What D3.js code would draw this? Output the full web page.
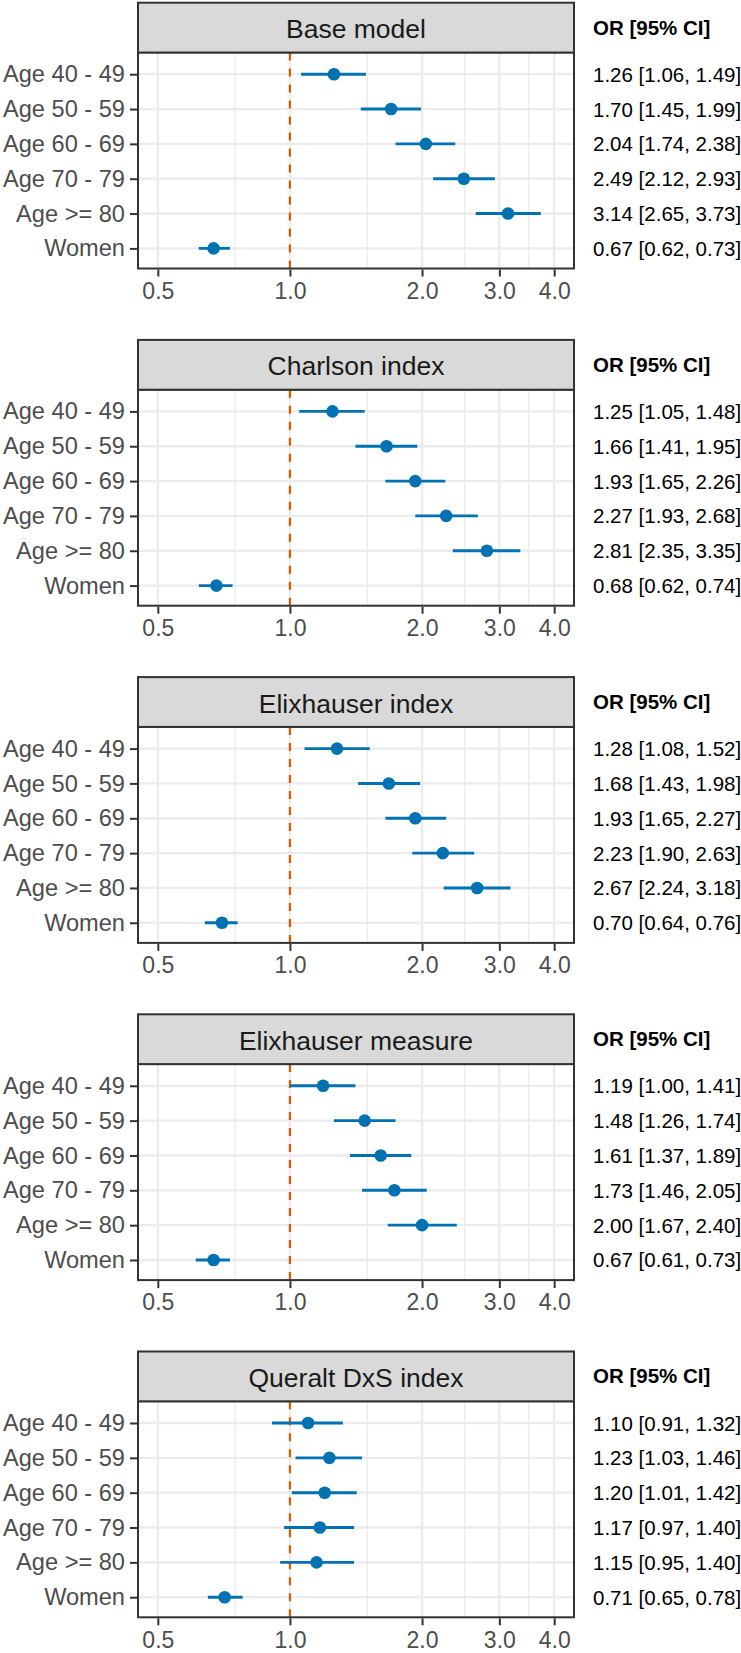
<!DOCTYPE html>
<html>
<head>
<meta charset="utf-8">
<script src="https://cdn.jsdelivr.net/npm/d3@7"></script>
<style>
  html, body { margin: 0; padding: 0; background: #ffffff; }
  svg { display: block; }
  text { font-family: "Liberation Sans", Arial, sans-serif; }
</style>
</head>
<body>
<svg id="chart" width="741" height="1653"></svg>
<script>
// ---------- data ----------
const categories = ["Age 40 - 49", "Age 50 - 59", "Age 60 - 69", "Age 70 - 79", "Age >= 80", "Women"];
const models = ["Base model", "Charlson index", "Elixhauser index", "Elixhauser measure", "Queralt DxS index"];
const orValues = [
  [1.26, 1.70, 2.04, 2.49, 3.14, 0.67],
  [1.25, 1.66, 1.93, 2.27, 2.81, 0.68],
  [1.28, 1.68, 1.93, 2.23, 2.67, 0.70],
  [1.19, 1.48, 1.61, 1.73, 2.00, 0.67],
  [1.10, 1.23, 1.20, 1.17, 1.15, 0.71]
];
const lowerCI = [
  [1.06, 1.45, 1.74, 2.12, 2.65, 0.62],
  [1.05, 1.41, 1.65, 1.93, 2.35, 0.62],
  [1.08, 1.43, 1.65, 1.90, 2.24, 0.64],
  [1.00, 1.26, 1.37, 1.46, 1.67, 0.61],
  [0.91, 1.03, 1.01, 0.97, 0.95, 0.65]
];
const upperCI = [
  [1.49, 1.99, 2.38, 2.93, 3.73, 0.73],
  [1.48, 1.95, 2.26, 2.68, 3.35, 0.74],
  [1.52, 1.98, 2.27, 2.63, 3.18, 0.76],
  [1.41, 1.74, 1.89, 2.05, 2.40, 0.73],
  [1.32, 1.46, 1.42, 1.40, 1.40, 0.78]
];
const xTicks = [0.5, 1, 2, 3, 4];
const xMinorTicks = [0.75, 1.5, 2.5, 3.5];
const xTickLabels = ["0.5", "1.0", "2.0", "3.0", "4.0"];
const refValue = 1;
const headerLabel = "OR [95% CI]";

// ---------- layout ----------
const svg = d3.select("#chart");
const panelLeft = 138, panelRight = 574;
const firstTop = 2.7, period = 337.2, stripH = 49.8, bodyH = 216;
const textX = 593;

const lo = Math.log2(0.5), hi = Math.log2(4), ex = (hi - lo) * 0.05;
const x = d3.scaleLog().base(2)
  .domain([Math.pow(2, lo - ex), Math.pow(2, hi + ex)])
  .range([panelLeft, panelRight]);

const fmt = d3.format(".2f");

models.forEach((model, mi) => {
  const top = firstTop + mi * period;
  const bodyTop = top + stripH;
  const bodyBottom = bodyTop + bodyH;

  const y = d3.scalePoint().domain(categories)
    .range([bodyTop + 0.8, bodyBottom + 0.8]).padding(0.6);

  const g = svg.append("g");

  const clipId = "clip" + mi;
  svg.append("clipPath").attr("id", clipId)
    .append("rect").attr("x", panelLeft).attr("y", bodyTop)
    .attr("width", panelRight - panelLeft).attr("height", bodyH);

  const body = g.append("g").attr("clip-path", `url(#${clipId})`);
  body.append("rect").attr("x", panelLeft).attr("y", bodyTop)
    .attr("width", panelRight - panelLeft).attr("height", bodyH).attr("fill", "#ffffff");

  body.selectAll(".minor").data(xMinorTicks).enter().append("line")
    .attr("x1", d => x(d)).attr("x2", d => x(d))
    .attr("y1", bodyTop).attr("y2", bodyBottom)
    .attr("stroke", "#EBEBEB").attr("stroke-width", 1.3);
  body.selectAll(".major").data(xTicks).enter().append("line")
    .attr("x1", d => x(d)).attr("x2", d => x(d))
    .attr("y1", bodyTop).attr("y2", bodyBottom)
    .attr("stroke", "#EBEBEB").attr("stroke-width", 2.3);
  body.selectAll(".hgrid").data(categories).enter().append("line")
    .attr("x1", panelLeft).attr("x2", panelRight)
    .attr("y1", d => y(d)).attr("y2", d => y(d))
    .attr("stroke", "#EBEBEB").attr("stroke-width", 2.3);

  body.append("line")
    .attr("x1", x(refValue)).attr("x2", x(refValue))
    .attr("y1", bodyTop).attr("y2", bodyBottom)
    .attr("stroke", "#D55E00").attr("stroke-width", 2.3)
    .attr("stroke-dasharray", "8,8");

  const rows = categories.map((c, i) => ({
    cat: c, or: orValues[mi][i], lo: lowerCI[mi][i], hi: upperCI[mi][i]
  }));

  body.selectAll(".err").data(rows).enter().append("line")
    .attr("x1", d => x(d.lo)).attr("x2", d => x(d.hi))
    .attr("y1", d => y(d.cat)).attr("y2", d => y(d.cat))
    .attr("stroke", "#0072B2").attr("stroke-width", 2.9);
  body.selectAll(".pt").data(rows).enter().append("circle")
    .attr("cx", d => x(d.or)).attr("cy", d => y(d.cat)).attr("r", 6.3)
    .attr("fill", "#0072B2");

  g.append("rect").attr("x", panelLeft).attr("y", bodyTop)
    .attr("width", panelRight - panelLeft).attr("height", bodyH)
    .attr("fill", "none").attr("stroke", "#333333").attr("stroke-width", 2);

  g.append("rect").attr("x", panelLeft).attr("y", top)
    .attr("width", panelRight - panelLeft).attr("height", stripH)
    .attr("fill", "#D9D9D9").attr("stroke", "#333333").attr("stroke-width", 2);
  g.append("text").attr("x", (panelLeft + panelRight) / 2).attr("y", top + stripH / 2 + 1.5)
    .attr("text-anchor", "middle").attr("dominant-baseline", "central")
    .attr("font-size", 26.5).attr("fill", "#1A1A1A").text(model);

  const yAxis = d3.axisLeft(y).tickSize(7).tickPadding(5);
  const ya = g.append("g").attr("transform", `translate(${panelLeft - 1},0)`).call(yAxis);
  ya.select(".domain").remove();
  ya.selectAll(".tick line").attr("stroke", "#333333").attr("stroke-width", 2);
  ya.selectAll(".tick text").attr("font-size", 23.6).attr("fill", "#4D4D4D")
    .attr("font-family", "Liberation Sans, Arial, sans-serif");

  const xAxis = d3.axisBottom(x).tickValues(xTicks)
    .tickFormat((d, i) => xTickLabels[i]).tickSize(7).tickPadding(6);
  const xa = g.append("g").attr("transform", `translate(0,${bodyBottom + 1})`).call(xAxis);
  xa.select(".domain").remove();
  xa.selectAll(".tick line").attr("stroke", "#333333").attr("stroke-width", 2);
  xa.selectAll(".tick text").attr("font-size", 23).attr("fill", "#4D4D4D")
    .attr("font-family", "Liberation Sans, Arial, sans-serif");

  g.append("text").attr("x", textX).attr("y", top + stripH / 2 - 0.5)
    .attr("dominant-baseline", "central")
    .attr("font-size", 20.5).attr("font-weight", "bold").attr("fill", "#000000")
    .text(headerLabel);
  g.selectAll(".ortext").data(rows).enter().append("text")
    .attr("x", textX).attr("y", d => y(d.cat))
    .attr("dominant-baseline", "central")
    .attr("font-size", 20.5).attr("fill", "#000000")
    .text(d => `${fmt(d.or)} [${fmt(d.lo)}, ${fmt(d.hi)}]`);
});
</script>
</body>
</html>
